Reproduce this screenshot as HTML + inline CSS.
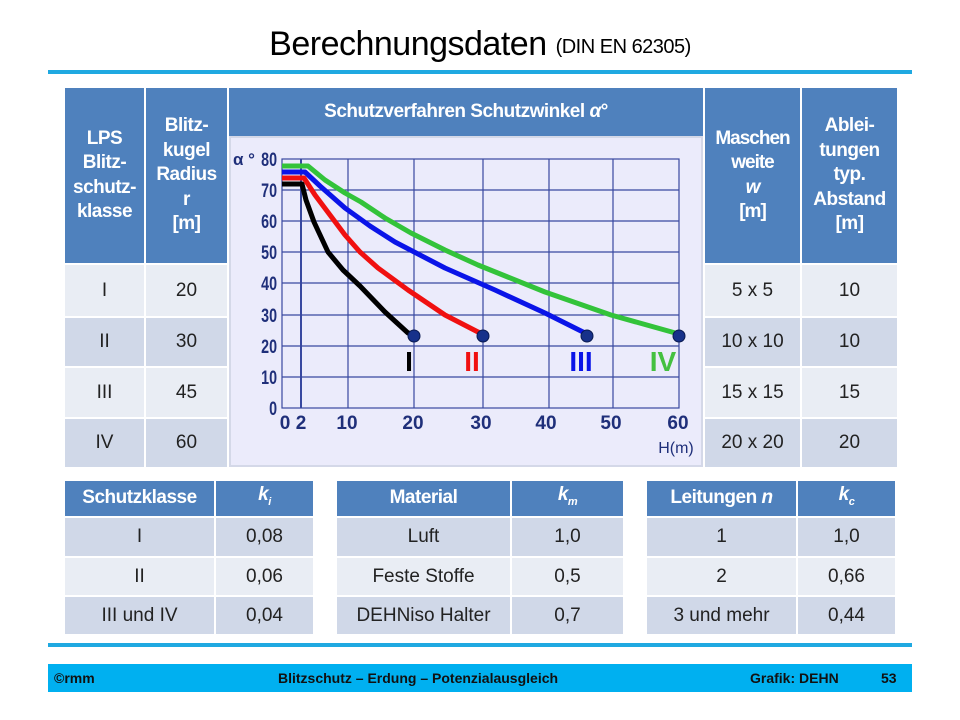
<!DOCTYPE html>
<html><head><meta charset="utf-8"><style>
body{margin:0;width:960px;height:720px;background:#fff;position:relative;overflow:hidden;font-family:"Liberation Sans",sans-serif}
.a{position:absolute;box-sizing:border-box;display:flex;align-items:center;justify-content:center;text-align:center}
.h{background:#4f81bd;color:#fff;font-weight:bold;font-size:19px;line-height:24.5px;letter-spacing:-0.5px}
.l{background:#e9edf4;color:#222;font-size:19px}
.d{background:#d0d8e8;color:#222;font-size:19px}
</style></head><body>
<div class="a" style="left:0;top:22px;width:960px;height:44px;font-size:34px;color:#000;letter-spacing:-0.5px"><div>Berechnungsdaten&nbsp;<span style="font-size:20px;position:relative;top:-2px">(DIN EN 62305)</span></div></div>
<div style="position:absolute;left:48px;top:70px;width:864px;height:4px;background:#1fa9e1"></div>

<div class="a h" style="left:65px;top:88px;width:79px;height:175px"><div>LPS<br>Blitz-<br>schutz-<br>klasse</div></div>
<div class="a h" style="left:146px;top:88px;width:81px;height:175px"><div>Blitz-<br>kugel<br>Radius<br>r<br>[m]</div></div>
<div class="a h" style="left:229px;top:88px;width:474px;height:175px;align-items:flex-start;padding-top:12px"><div>Schutzverfahren Schutzwinkel <i>α</i>°</div></div>
<div class="a h" style="left:705px;top:88px;width:95px;height:175px;letter-spacing:-1px"><div>Maschen<br>weite<br><i>w</i><br>[m]</div></div>
<div class="a h" style="left:802px;top:88px;width:95px;height:175px"><div>Ablei-<br>tungen<br>typ.<br>Abstand<br>[m]</div></div>

<div class="a l" style="left:65px;top:265px;width:79px;height:51px">I</div>
<div class="a l" style="left:146px;top:265px;width:81px;height:51px">20</div>
<div class="a l" style="left:705px;top:265px;width:95px;height:51px">5 x 5</div>
<div class="a l" style="left:802px;top:265px;width:95px;height:51px">10</div>
<div class="a d" style="left:65px;top:318px;width:79px;height:48px">II</div>
<div class="a d" style="left:146px;top:318px;width:81px;height:48px">30</div>
<div class="a d" style="left:705px;top:318px;width:95px;height:48px">10 x 10</div>
<div class="a d" style="left:802px;top:318px;width:95px;height:48px">10</div>
<div class="a l" style="left:65px;top:368px;width:79px;height:49px">III</div>
<div class="a l" style="left:146px;top:368px;width:81px;height:49px">45</div>
<div class="a l" style="left:705px;top:368px;width:95px;height:49px">15 x 15</div>
<div class="a l" style="left:802px;top:368px;width:95px;height:49px">15</div>
<div class="a d" style="left:65px;top:419px;width:79px;height:48px">IV</div>
<div class="a d" style="left:146px;top:419px;width:81px;height:48px">60</div>
<div class="a d" style="left:705px;top:419px;width:95px;height:48px">20 x 20</div>
<div class="a d" style="left:802px;top:419px;width:95px;height:48px">20</div>
<div style="position:absolute;left:229px;top:265px;width:474px;height:202px;background:#dfe3ee"></div>

<svg style="position:absolute;left:0;top:0" width="960" height="720">
<rect x="230" y="137" width="472" height="329" fill="#ebebfb" stroke="#d4d8e8" stroke-width="2"/>
<g stroke="#3848a0" stroke-width="1.2" fill="none">
<rect x="282" y="159" width="397" height="249"/>
<line x1="282" y1="190" x2="679" y2="190"/><line x1="282" y1="221" x2="679" y2="221"/><line x1="282" y1="252" x2="679" y2="252"/><line x1="282" y1="283" x2="679" y2="283"/><line x1="282" y1="315" x2="679" y2="315"/><line x1="282" y1="346" x2="679" y2="346"/><line x1="282" y1="377" x2="679" y2="377"/>
<line x1="301" y1="159" x2="301" y2="408" stroke-width="2"/><line x1="348" y1="159" x2="348" y2="408"/><line x1="414" y1="159" x2="414" y2="408"/><line x1="483" y1="159" x2="483" y2="408"/><line x1="549" y1="159" x2="549" y2="408"/><line x1="613" y1="159" x2="613" y2="408"/>
</g>
<g fill="#1f2f7a" font-weight="bold" font-size="19" text-anchor="end">
<text x="277" y="166" transform="translate(277 0) scale(0.75 1) translate(-277 0)">80</text>
<text x="277" y="197" transform="translate(277 0) scale(0.75 1) translate(-277 0)">70</text>
<text x="277" y="228" transform="translate(277 0) scale(0.75 1) translate(-277 0)">60</text>
<text x="277" y="259" transform="translate(277 0) scale(0.75 1) translate(-277 0)">50</text>
<text x="277" y="290" transform="translate(277 0) scale(0.75 1) translate(-277 0)">40</text>
<text x="277" y="322" transform="translate(277 0) scale(0.75 1) translate(-277 0)">30</text>
<text x="277" y="353" transform="translate(277 0) scale(0.75 1) translate(-277 0)">20</text>
<text x="277" y="384" transform="translate(277 0) scale(0.75 1) translate(-277 0)">10</text>
<text x="277" y="415" transform="translate(277 0) scale(0.75 1) translate(-277 0)">0</text>
</g>
<text x="233" y="165" fill="#1f2f7a" font-weight="bold" font-size="17">α °</text>
<g fill="#1f2f7a" font-weight="bold" font-size="19" text-anchor="middle">
<text x="285" y="429">0</text><text x="301" y="429">2</text><text x="347" y="429">10</text><text x="413" y="429">20</text><text x="481" y="429">30</text><text x="546" y="429">40</text><text x="611" y="429">50</text><text x="678" y="429">60</text>
<text x="676" y="453" font-size="16" font-weight="normal">H(m)</text>
</g>
<g fill="none" stroke-width="5" stroke-linejoin="round">
<polyline stroke="#33c33a" points="282,166 308,166 325,180 345,193 361,202 385,218 411,233 445,250 478,265 545,292 611,315 679,334"/>
<polyline stroke="#0a14e8" points="282,172 305,172 320,186 345,208 370,226 395,242 445,268 495,290 545,313 581,331 587,334"/>
<polyline stroke="#f01010" points="282,178 304,178 315,195 330,215 345,235 360,252 378,268 408,290 445,315 478,332 483,334"/>
<polyline stroke="#000" points="282,184 302,184 306,200 314,222 328,252 343,270 360,286 385,312 408,333 414,334"/>
</g>
<g fill="#17318a" stroke="#0a1a50" stroke-width="1"><circle cx="414" cy="336" r="6"/><circle cx="483" cy="336" r="6"/><circle cx="587" cy="336" r="6"/><circle cx="679" cy="336" r="6"/></g>
<g font-weight="bold" font-size="28" text-anchor="middle">
<text x="409" y="371" fill="#000">I</text><text x="472" y="371" fill="#f01010">II</text><text x="581" y="371" fill="#0a14e8">III</text><text x="663" y="371" fill="#44c040">IV</text>
</g>
</svg>

<div class="a h" style="left:65px;top:481px;width:149px;height:35px">Schutzklasse</div>
<div class="a h" style="left:216px;top:481px;width:97px;height:35px"><div><i>k<sub style="font-size:11px">i</sub></i></div></div>
<div class="a d" style="left:65px;top:518px;width:149px;height:38px">I</div>
<div class="a d" style="left:216px;top:518px;width:97px;height:38px">0,08</div>
<div class="a l" style="left:65px;top:558px;width:149px;height:37px">II</div>
<div class="a l" style="left:216px;top:558px;width:97px;height:37px">0,06</div>
<div class="a d" style="left:65px;top:597px;width:149px;height:37px">III und IV</div>
<div class="a d" style="left:216px;top:597px;width:97px;height:37px">0,04</div>

<div class="a h" style="left:337px;top:481px;width:173px;height:35px">Material</div>
<div class="a h" style="left:512px;top:481px;width:111px;height:35px"><div><i>k<sub style="font-size:11px">m</sub></i></div></div>
<div class="a d" style="left:337px;top:518px;width:173px;height:38px">Luft</div>
<div class="a d" style="left:512px;top:518px;width:111px;height:38px">1,0</div>
<div class="a l" style="left:337px;top:558px;width:173px;height:37px">Feste Stoffe</div>
<div class="a l" style="left:512px;top:558px;width:111px;height:37px">0,5</div>
<div class="a d" style="left:337px;top:597px;width:173px;height:37px">DEHNiso Halter</div>
<div class="a d" style="left:512px;top:597px;width:111px;height:37px">0,7</div>

<div class="a h" style="left:647px;top:481px;width:149px;height:35px"><div>Leitungen <i>n</i></div></div>
<div class="a h" style="left:798px;top:481px;width:97px;height:35px"><div><i>k<sub style="font-size:11px">c</sub></i></div></div>
<div class="a d" style="left:647px;top:518px;width:149px;height:38px">1</div>
<div class="a d" style="left:798px;top:518px;width:97px;height:38px">1,0</div>
<div class="a l" style="left:647px;top:558px;width:149px;height:37px">2</div>
<div class="a l" style="left:798px;top:558px;width:97px;height:37px">0,66</div>
<div class="a d" style="left:647px;top:597px;width:149px;height:37px">3 und mehr</div>
<div class="a d" style="left:798px;top:597px;width:97px;height:37px">0,44</div>

<div style="position:absolute;left:48px;top:643px;width:864px;height:4px;background:#1fa9e1"></div>
<div style="position:absolute;left:48px;top:664px;width:864px;height:28px;background:#00b0f0;font-weight:bold;font-size:14px;color:#111">
<span style="position:absolute;left:6px;top:6px">©rmm</span>
<span style="position:absolute;left:230px;top:6px">Blitzschutz – Erdung – Potenzialausgleich</span>
<span style="position:absolute;left:702px;top:6px">Grafik: DEHN</span>
<span style="position:absolute;left:833px;top:6px">53</span>
</div>
</body></html>
